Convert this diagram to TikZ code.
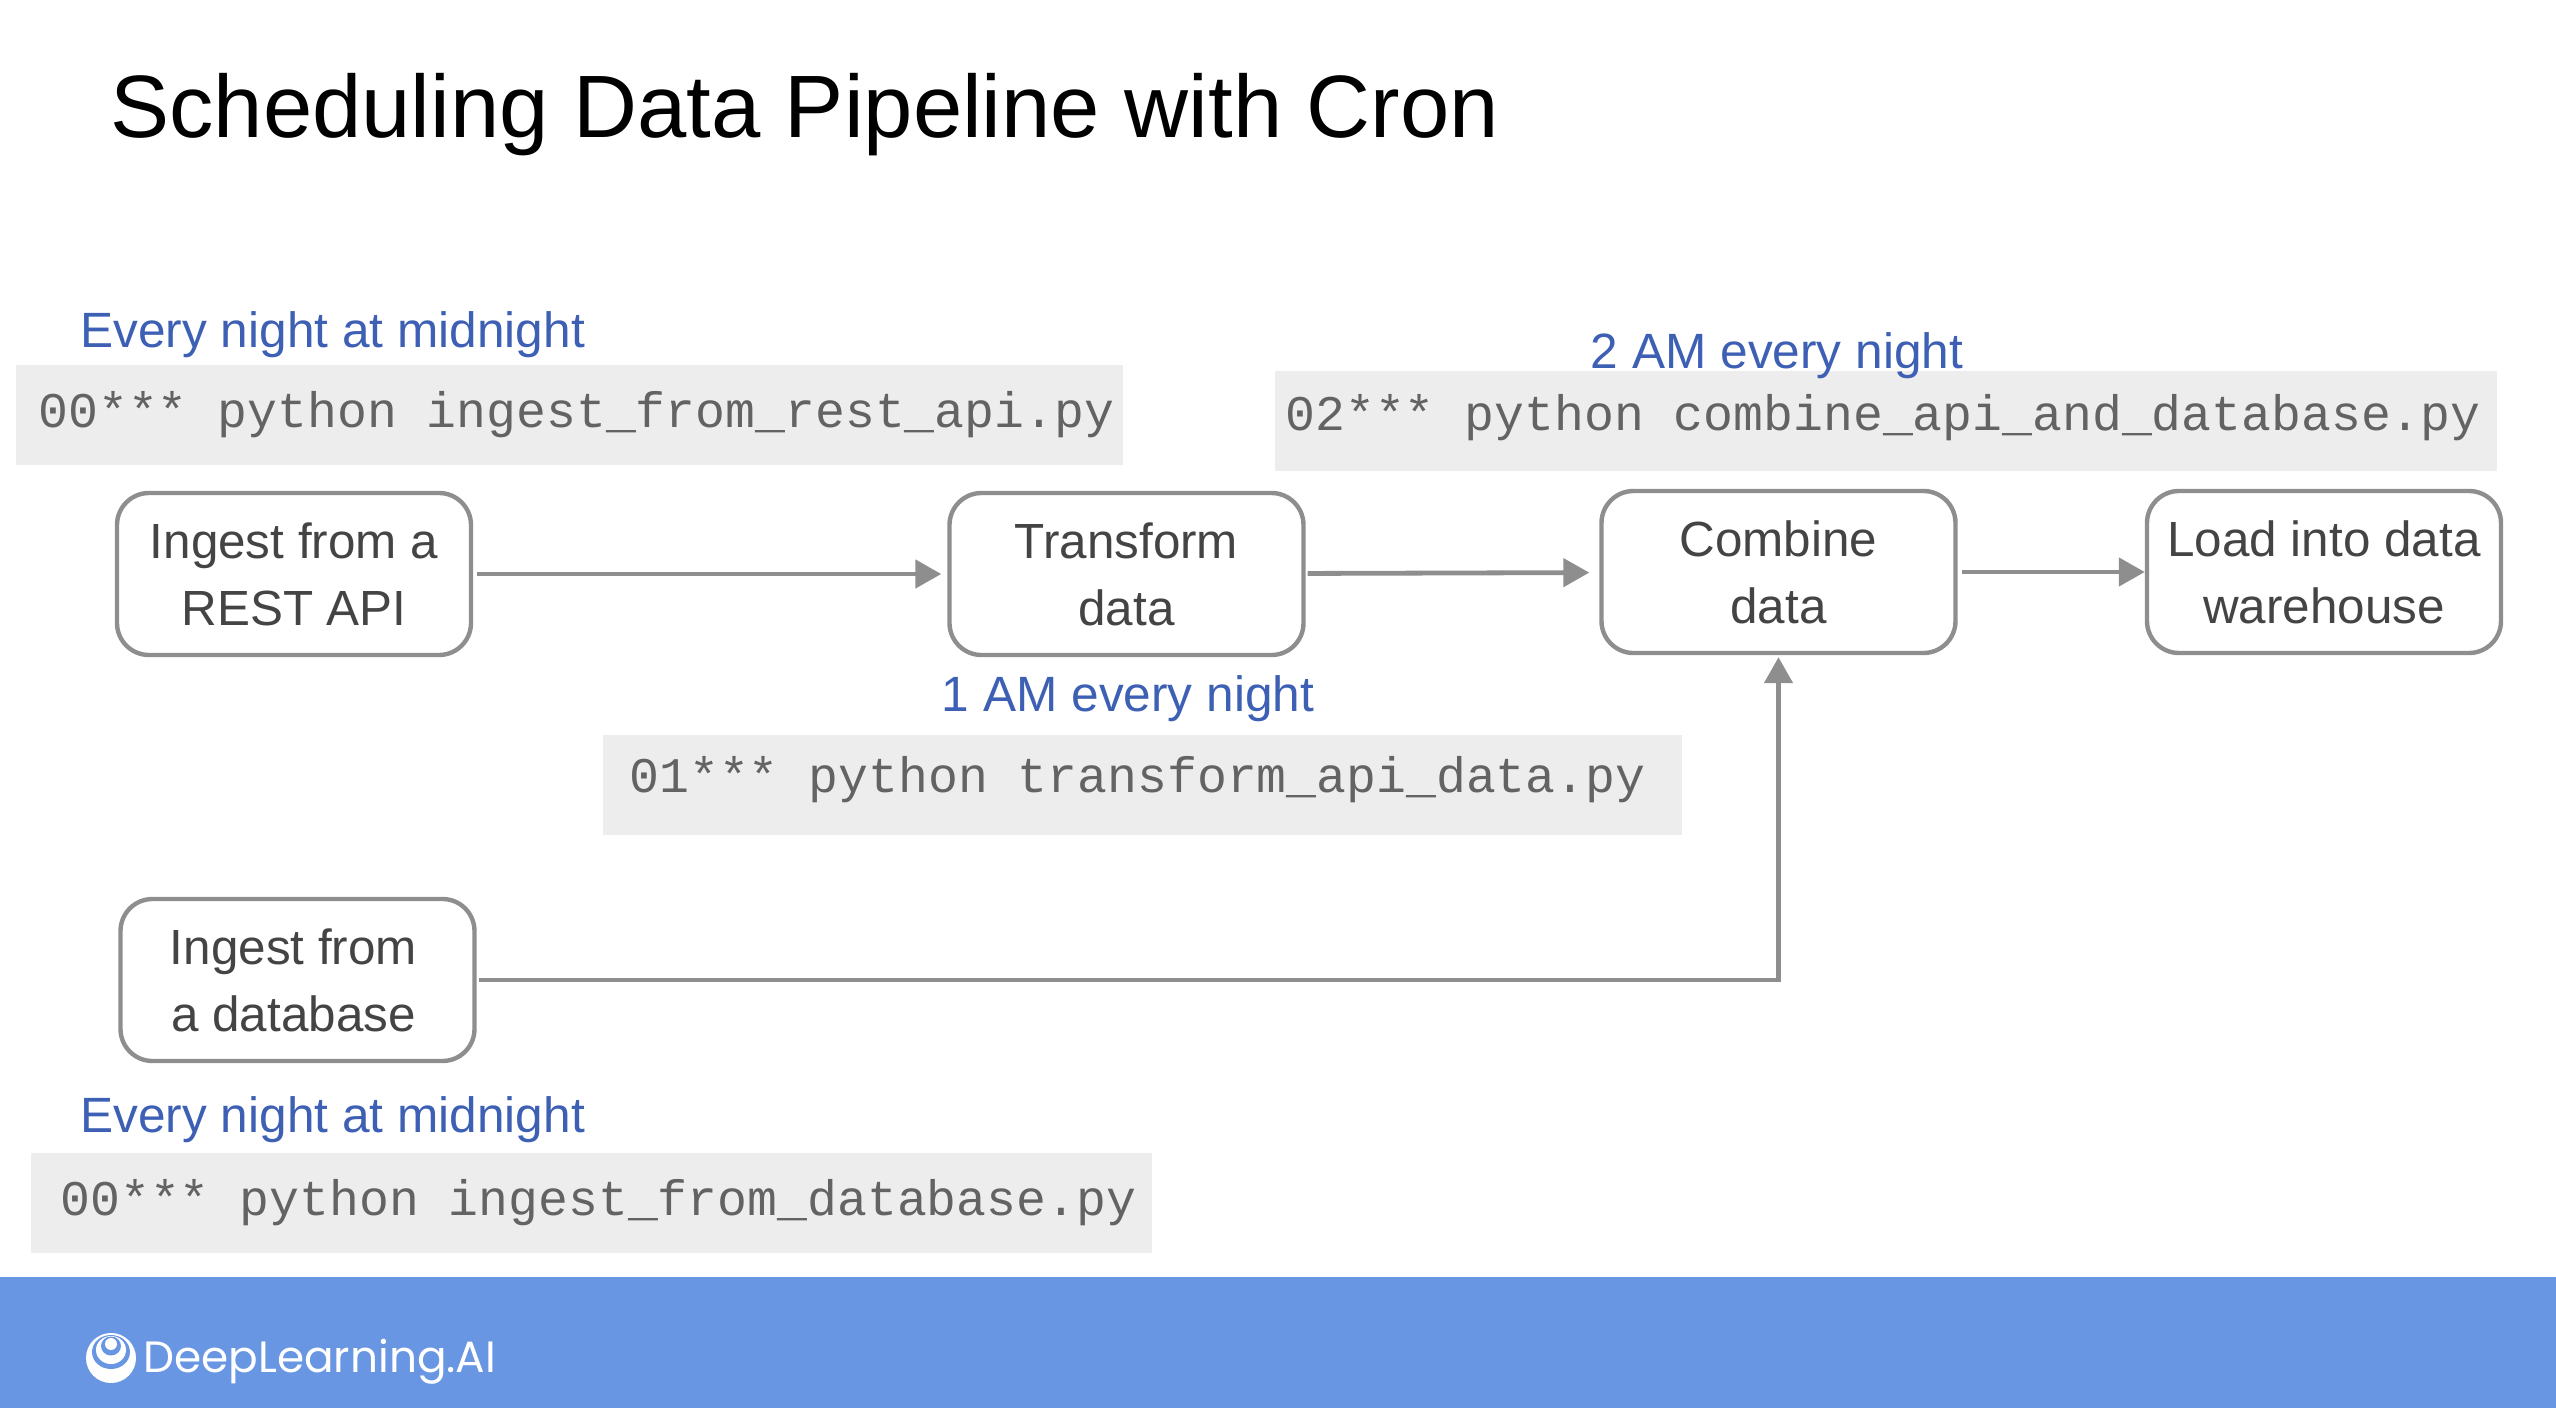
\documentclass[tikz,border=0pt]{standalone}
\usepackage{fontspec}
\setmainfont{Liberation Sans}
\setmonofont{Liberation Mono}
\newfontfamily\logofont{Poppins}
\usetikzlibrary{arrows.meta}
\definecolor{flowgrey}{HTML}{8E8E8E}
\definecolor{codefill}{HTML}{EDEDED}
\definecolor{codetext}{HTML}{636363}
\definecolor{boxtext}{HTML}{444444}
\definecolor{noteblue}{HTML}{3D60B4}
\definecolor{bandblue}{HTML}{6996E3}
\tikzset{
    stagebox/.style={draw=flowgrey, line width=2.2pt, rounded corners=16pt, fill=white, text=boxtext, align=center, minimum width=177pt, minimum height=81pt, inner sep=0pt, font=\fontsize{24.7}{33.5}\selectfont},
    codebar/.style={fill=codefill, inner sep=0pt, minimum height=50pt},
    codeline/.style={anchor=west, text=codetext, inner sep=0pt, font=\ttfamily\fontsize{24.9}{30}\selectfont},
    schednote/.style={text=noteblue, inner sep=0pt, font=\fontsize{24.8}{30}\selectfont},
    flowarrow/.style={-{Triangle[length=13pt,width=14pt]}, draw=flowgrey, line width=2.4pt, shorten <=2pt, shorten >=3pt}
}
\begin{document}
\begin{tikzpicture}[x=0.5pt, y=-0.5pt]
    \useasboundingbox (0,0) rectangle (2556,1408);
    \fill [bandblue] (0,1277) rectangle (2556,1408);
    \node [anchor=base west, inner sep=0pt, font=\fontsize{44.3}{50}\selectfont] (title) at (110,137) {Scheduling Data Pipeline with Cron};

    \node [codebar, minimum width=553.5pt] (barrest) at (569.5,415) {};
    \node [codebar, minimum width=611pt] (barcombine) at (1886,420.5) {};
    \node [codebar, minimum width=539.5pt] (bartransform) at (1142.5,785) {};
    \node [codebar, minimum width=560.5pt] (bardatabase) at (591.5,1203) {};

    \node [codeline] (coderest) at (38,415) {00*** python ingest\_from\_rest\_api.py};
    \node [codeline] (codecombine) at (1285,417.5) {02*** python combine\_api\_and\_database.py};
    \node [codeline] (codetransform) at (629,780) {01*** python transform\_api\_data.py};
    \node [codeline] (codedatabase) at (60,1203) {00*** python ingest\_from\_database.py};

    \node [schednote, anchor=west] (noterest) at (80,335) {Every night at midnight};
    \node [schednote] (notecombine) at (1777,356) {2 AM every night};
    \node [schednote] (notetransform) at (1128,699) {1 AM every night};
    \node [schednote, anchor=west] (notedatabase) at (80,1120) {Every night at midnight};

    \node [stagebox] (rest) at (294,574) {Ingest from a\\REST API};
    \node [stagebox] (transform) at (1126.5,574) {Transform\\data};
    \node [stagebox] (combine) at (1778.5,572) {Combine\\data};
    \node [stagebox] (load) at (2324,572) {Load into data\\warehouse};
    \node [stagebox] (database) at (297.5,980) {Ingest from\hspace*{4pt}\\a database\hspace*{4pt}};

    \draw [flowarrow] (rest) -- (transform);
    \draw [flowarrow, shorten <=1pt, shorten >=5pt] (transform) -- (combine);
    \draw [flowarrow, shorten >=0pt] (combine) -- (load);
    \draw [flowarrow, shorten <=1pt, shorten >=1pt] (database.east) -| (combine.south);

    \fill [white] (111,1358) ellipse [x radius=25, y radius=25];
    \fill [bandblue] (111,1352) ellipse [x radius=19, y radius=17];
    \fill [white] (111,1350) ellipse [x radius=15, y radius=14];
    \fill [bandblue] (111,1346) ellipse [x radius=10, y radius=9.5];
    \fill [white] (111,1344) circle [radius=6];
    \node [anchor=base west, inner sep=0pt, text=white, font=\logofont\fontsize{21.9}{26}\selectfont] (brand) at (143,1372) {DeepLearning.AI};
\end{tikzpicture}
\end{document}
